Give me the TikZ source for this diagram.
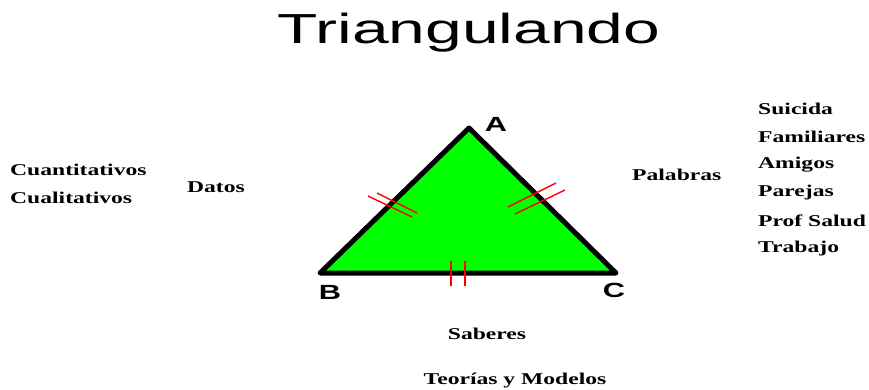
\documentclass[tikz,border=0pt]{standalone}
\usepackage{fontspec}
\setmainfont{Liberation Serif}
\newfontfamily\arialf{Liberation Sans}
\newcommand{\wide}[1]{\scalebox{1.43}[1]{#1}}
\begin{document}
\begin{tikzpicture}[x=1pt,y=-1pt,
  lbl/.style={font=\bfseries\fontsize{16.5}{18}\selectfont, inner sep=0pt},
  vtx/.style={font=\arialf\bfseries\fontsize{20.5}{22}\selectfont, inner sep=0pt},
  tick/.style={draw=red, line width=1.4pt}]
\useasboundingbox (0,0) rectangle (869,389);
\node[font=\arialf\fontsize{42}{46}\selectfont, inner sep=0pt, anchor=base] (title) at (469,43) {\scalebox{1.57}[1]{Triangulando}};
\coordinate (A) at (469,128);
\coordinate (B) at (320,273);
\coordinate (C) at (616,273);
\draw[fill={rgb,255:red,0;green,255;blue,0}, line width=5pt, line join=round] (A) -- (B) -- (C) -- cycle;
\node[vtx] (la) at (496,124) {\scalebox{1.5}[1]{A}};
\node[vtx] (lb) at (330,292) {\scalebox{1.5}[1]{B}};
\node[vtx] (lc) at (614,290) {\scalebox{1.5}[1]{C}};
% ticks
\coordinate (t1a) at (368,196); \coordinate (t1b) at (412,217);
\coordinate (t2a) at (377,193); \coordinate (t2b) at (417,213);
\draw[tick] (t1a) -- (t1b); \draw[tick] (t2a) -- (t2b);
\coordinate (t3a) at (508,207); \coordinate (t3b) at (556,183);
\coordinate (t4a) at (515,214); \coordinate (t4b) at (565,190);
\draw[tick] (t3a) -- (t3b); \draw[tick] (t4a) -- (t4b);
\coordinate (t5a) at (451,261); \coordinate (t5b) at (451,286);
\coordinate (t6a) at (465,261); \coordinate (t6b) at (465,286);
\draw[tick] (t5a) -- (t5b); \draw[tick] (t6a) -- (t6b);
% labels
\node[lbl, anchor=west] (cuan) at (10,170) {\wide{Cuantitativos}};
\node[lbl, anchor=west] (cual) at (10,198) {\wide{Cualitativos}};
\node[lbl] (datos) at (216,187) {\wide{Datos}};
\node[lbl, anchor=west] (pal) at (632,175) {\wide{Palabras}};
\node[lbl, anchor=west] (s1) at (758,109) {\wide{Suicida}};
\node[lbl, anchor=west] (s2) at (758,137) {\wide{Familiares}};
\node[lbl, anchor=west] (s3) at (758,165) {\wide{Amigos}};
\node[lbl, anchor=west] (s4) at (758,193) {\wide{Parejas}};
\node[lbl, anchor=west] (s5) at (758,221) {\wide{Prof Salud}};
\node[lbl, anchor=west] (s6) at (758,249) {\wide{Trabajo}};
\node[lbl] (sab) at (487,334) {\wide{Saberes}};
\node[lbl] (teo) at (515,381) {\wide{Teorías y Modelos}};
\end{tikzpicture}
\end{document}
